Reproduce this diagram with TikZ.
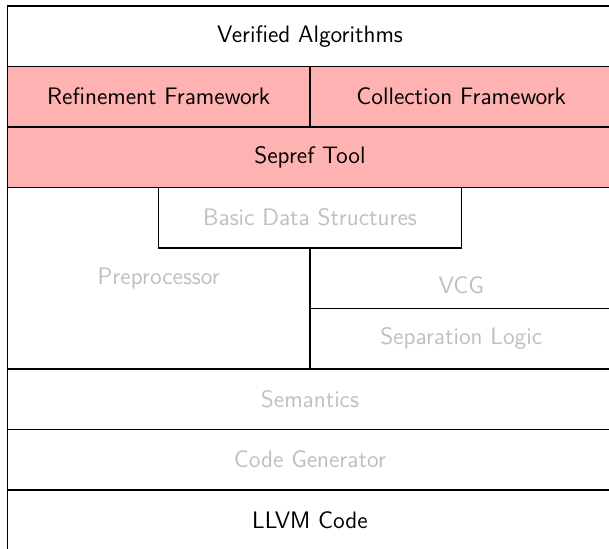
\documentclass[tikz,border=0pt]{standalone}
\usetikzlibrary{positioning}

\begin{document}
\begin{tikzpicture}[
      node distance=0pt,
      layer/.style={draw, line width=0.6pt, outer sep=0pt, minimum height=1cm, font=\sffamily\fontsize{11.2}{13}\selectfont},
      full/.style={layer, minimum width=10cm},
      half/.style={layer, minimum width=5cm},
      tool/.style={fill=red!30},
      faded/.style={text=black!25}]
      \useasboundingbox (-0.124,0.041) rectangle (9.942,9.099);
      \clip (-0.124,0.041) rectangle (9.942,9.099);
      % top of the stack
      \node[full]                                        (algos)   at (5,8.5) {Verified Algorithms};
      \node[half, tool, anchor=north west]               (refine)  at (algos.south west) {Refinement Framework};
      \node[half, tool, right=of refine]                 (collect) {Collection Framework};
      \node[full, tool, below=of refine.south west, anchor=north west] (sepref) {Sepref Tool};
      % middle block
      \node[half, faded, minimum height=3cm, anchor=north west] (prep) at (sepref.south west) {Preprocessor};
      \node[half, minimum height=2cm, anchor=north east]  (vcg)     at (sepref.south east) {};
      \node[faded, font=\sffamily\fontsize{11.2}{13}\selectfont] (vcgname) at ([yshift=0.39cm]vcg.south) {VCG};
      \node[half, faded, below=of vcg]                    (seplog)  {Separation Logic};
      \node[half, faded, fill=white, below=of sepref]     (bds)     {Basic Data Structures};
      % bottom of the stack
      \node[full, faded, below=of prep.south west, anchor=north west] (sem)   {Semantics};
      \node[full, faded, below=of sem]                    (codegen) {Code Generator};
      \node[full, below=of codegen]                       (llvm)    {LLVM Code};
    \end{tikzpicture}
\end{document}
